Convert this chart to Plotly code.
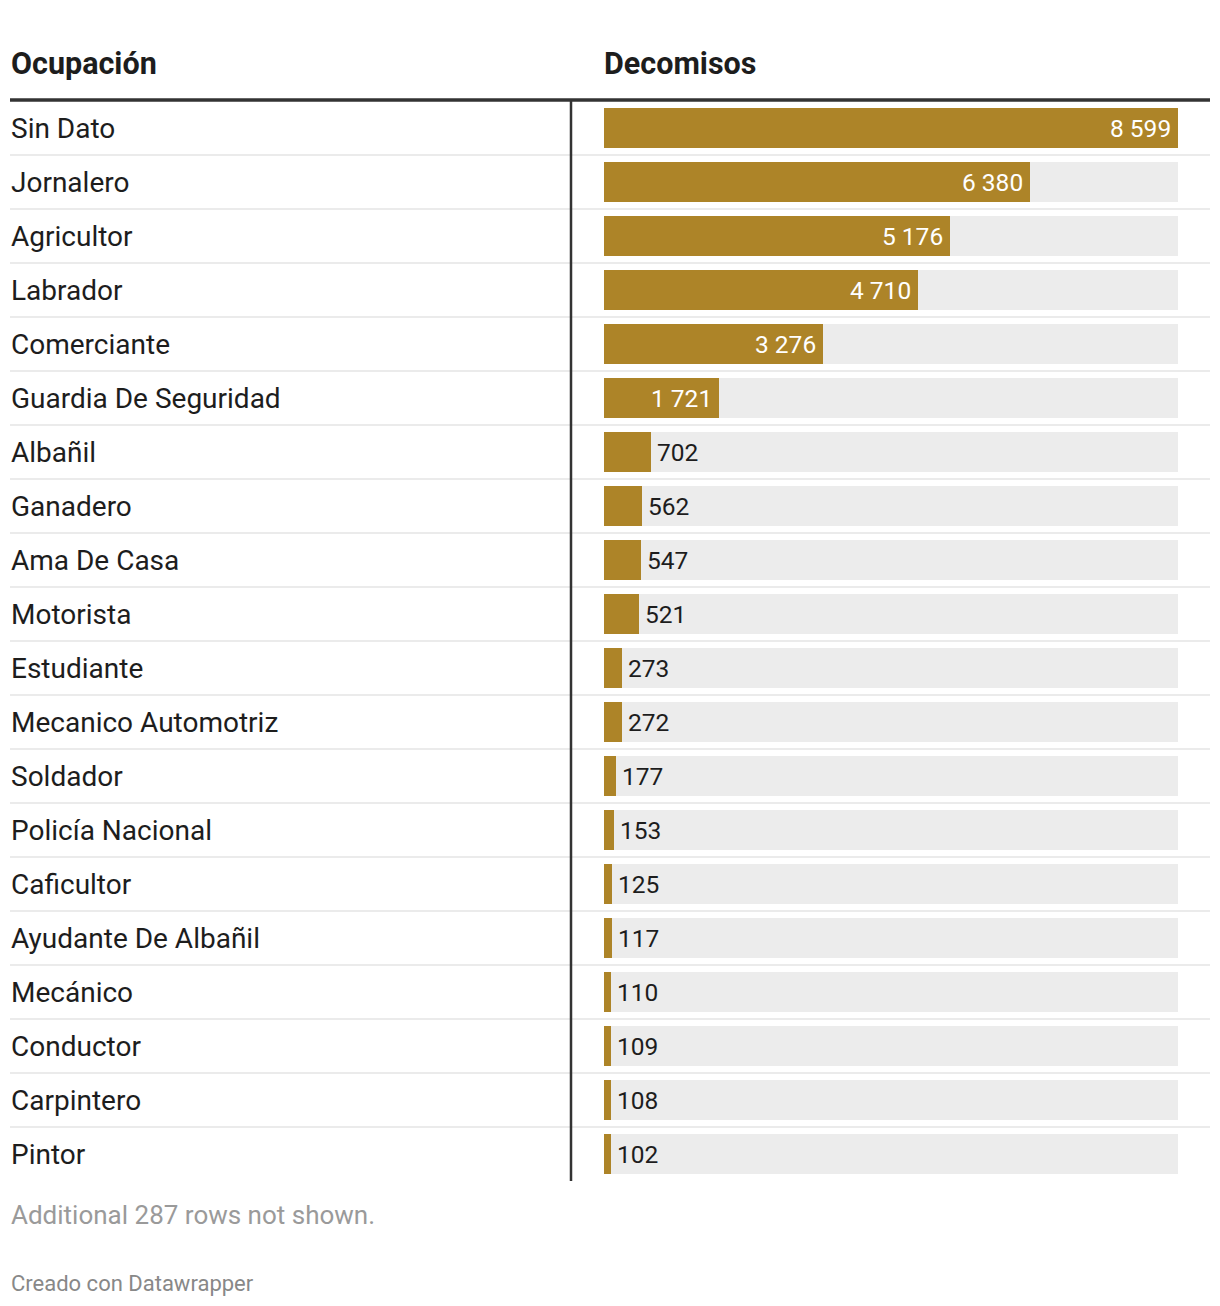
import plotly.graph_objects as go

# ---- data ----
categories = [
    "Sin Dato", "Jornalero", "Agricultor", "Labrador", "Comerciante",
    "Guardia De Seguridad", "Albañil", "Ganadero", "Ama De Casa", "Motorista",
    "Estudiante", "Mecanico Automotriz", "Soldador", "Policía Nacional",
    "Caficultor", "Ayudante De Albañil", "Mecánico", "Conductor",
    "Carpintero", "Pintor",
]
values = [8599, 6380, 5176, 4710, 3276, 1721, 702, 562, 547, 521,
          273, 272, 177, 153, 125, 117, 110, 109, 108, 102]
col_headers = ["Ocupación", "Decomisos"]
note_text = "Additional 287 rows not shown."
credit_text = "Creado con Datawrapper"

# ---- layout constants (page pixels; page has an 8px body margin) ----
OFF = 8
W, H = 1212, 1298
FONT = "Roboto"
GOLD = "#ad8428"
BG = "#ececec"
DARK = "#1d1d1d"

def px_x(x):
    return (x - OFF) / W

def px_y(y):
    return 1 - (y - OFF) / H

n = len(categories)
ypos = list(range(n))
vmax = max(values)

def fmt(v):
    return f"{v:,}".replace(",", " ")

fig = go.Figure()
fig.add_trace(go.Bar(
    x=[vmax] * n, y=ypos, orientation="h", marker_color=BG,
    marker_line_width=0, width=0.74, hoverinfo="skip", showlegend=False,
))
fig.add_trace(go.Bar(
    x=values, y=ypos, orientation="h", marker_color=GOLD,
    marker_line_width=0, width=0.74, showlegend=False,
    hovertemplate="%{customdata}: %{x}<extra></extra>", customdata=categories,
))

annotations = []
# headers
for txt, xx in zip(col_headers, [10, 603]):
    annotations.append(dict(text="<b>" + txt + "</b>", x=px_x(xx - 1), y=px_y(63),
                            xref="paper", yref="paper", xanchor="left", yanchor="middle",
                            showarrow=False, font=dict(family=FONT, size=30.5, color=DARK)))
# row labels and value labels
for i, (c, v) in enumerate(zip(categories, values)):
    annotations.append(dict(text=c, x=px_x(9), y=i, xref="paper", yref="y",
                            xanchor="left", yanchor="middle", showarrow=False,
                            font=dict(family=FONT, size=28, color=DARK)))
    inside = v / vmax > 0.15
    annotations.append(dict(text=fmt(v), x=v, y=i, xref="x", yref="y",
                            xanchor="right" if inside else "left",
                            xshift=-5 if inside else 4, yanchor="middle",
                            showarrow=False,
                            font=dict(family=FONT, size=24.5,
                                      color="#ffffff" if inside else DARK)))
# footer
annotations.append(dict(text=note_text, x=px_x(9), y=px_y(1215), xref="paper", yref="paper",
                        xanchor="left", yanchor="middle", showarrow=False,
                        font=dict(family=FONT, size=26, color="#9a9a9a")))
annotations.append(dict(text=credit_text, x=px_x(9), y=px_y(1283), xref="paper", yref="paper",
                        xanchor="left", yanchor="middle", showarrow=False,
                        font=dict(family=FONT, size=22, color="#888888")))

shapes = []
# row separators
for i in range(n - 1):
    shapes.append(dict(type="line", xref="paper", yref="y", x0=px_x(10), x1=px_x(1210),
                       y0=i + 0.5, y1=i + 0.5, line=dict(color="#ebebeb", width=2), layer="below"))
# top header rule
shapes.append(dict(type="line", xref="paper", yref="paper", x0=px_x(10), x1=px_x(1210),
                   y0=px_y(100), y1=px_y(100), line=dict(color="#333333", width=3.5)))
# vertical divider
shapes.append(dict(type="line", xref="paper", yref="paper", x0=px_x(571), x1=px_x(571),
                   y0=px_y(101), y1=px_y(1181), line=dict(color="#333333", width=2.5)))

fig.update_layout(
    width=W, height=H,
    margin=dict(l=0, r=0, t=0, b=0),
    paper_bgcolor="white", plot_bgcolor="white",
    barmode="overlay", bargap=0,
    xaxis=dict(domain=[px_x(604), px_x(1178)], range=[0, vmax], visible=False, fixedrange=True),
    yaxis=dict(domain=[px_y(1181), px_y(101)], range=[n - 0.5, -0.5], visible=False, fixedrange=True),
    annotations=annotations, shapes=shapes,
    font=dict(family=FONT),
)

fig.write_html("out.html")
